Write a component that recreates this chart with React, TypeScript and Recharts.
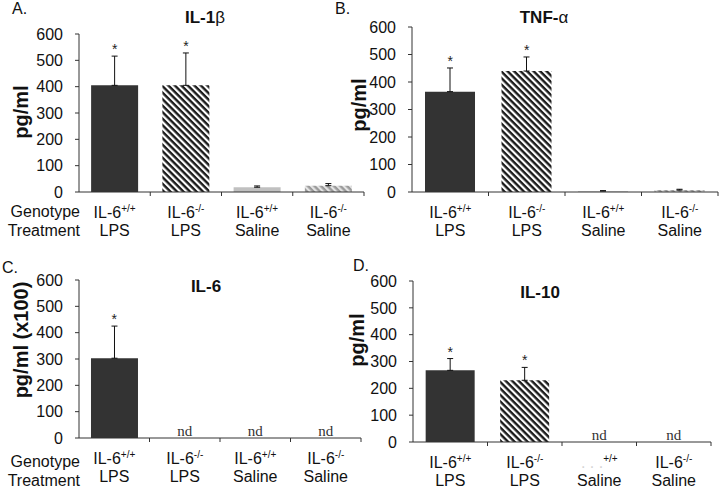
import React from 'react';
import { BarChart, Bar, Cell, XAxis, YAxis, ErrorBar, ReferenceDot } from 'recharts';

// groups, shared by all four panels
const groups = ['IL-6+/+ LPS', 'IL-6-/- LPS', 'IL-6+/+ Saline', 'IL-6-/- Saline'];
const genotypeSup = ['+/+', '-/-', '+/+', '-/-'];
const treatments = ['LPS', 'LPS', 'Saline', 'Saline'];
const yTicks = [0, 100, 200, 300, 400, 500, 600];

// A. IL-1b (pg/ml)
const il1bMean = [405, 405, 18, 24];
const il1bSem = [111, 123, 5, 8];
const il1bMark = ['*', '*', '', ''];

// B. TNF-a (pg/ml)
const tnfMean = [365, 440, 3, 7];
const tnfSem = [86, 51, 2, 3];
const tnfMark = ['*', '*', '', ''];

// C. IL-6 (pg/ml x100)
const il6Mean = [303, 0, 0, 0];
const il6Sem = [122, 0, 0, 0];
const il6Mark = ['*', 'nd', 'nd', 'nd'];

// D. IL-10 (pg/ml)
const il10Mean = [267, 230, 0, 0];
const il10Sem = [44, 48, 0, 0];
const il10Mark = ['*', '*', 'nd', 'nd'];

const FONT = '"Liberation Sans", Arial, sans-serif';
const SERIF = '"Liberation Serif", "Times New Roman", serif';

const GroupTick = (props: any) => {
  const { x, y, payload, fadedIndex } = props;
  const i = payload.index ?? props.index;
  const half = payload.offset ?? 0;
  const faded = i === fadedIndex;
  return (
    <g>
      {i > 0 && <line x1={x - half} x2={x - half} y1={y} y2={y + 4} stroke="#333" />}
      {i === groups.length - 1 && <line x1={x + half} x2={x + half} y1={y} y2={y + 4} stroke="#333" />}
      <text x={x} y={y + 26} textAnchor="middle" fontSize={16} fontFamily={FONT} fill="#111">
        <tspan fill={faded ? '#d4d4d4' : '#111'}>{faded ? '. . .' : 'IL-6'}</tspan>
        <tspan dy={-6} fontSize={10}>{genotypeSup[i]}</tspan>
      </text>
      <text x={x} y={y + 44} textAnchor="middle" fontSize={16} fontFamily={FONT} fill="#111">
        {treatments[i]}
      </text>
    </g>
  );
};

function Panel(props: any) {
  const { id, mean, sem, marks, left, top, width, height, yAxisWidth, marginTop, marginRight, fadedIndex } = props;
  const rows = groups.map((g, i) => ({ name: g, value: mean[i], err: [0, sem[i]] }));
  const fills = ['#333333', `url(#${id}-hb)`, '#c0c0c0', `url(#${id}-hg)`];

  return (
    <div style={{ position: 'absolute', left, top }}>
      <BarChart
        width={width}
        height={height}
        data={rows}
        margin={{ top: marginTop, right: marginRight, bottom: 0, left: 0 }}
        barCategoryGap="17%"
      >
        <defs>
          <pattern id={`${id}-hb`} width="4.6" height="4.6" patternUnits="userSpaceOnUse" patternTransform="rotate(45)">
            <rect width="4.6" height="4.6" fill="#ffffff" />
            <rect width="4.6" height="2.4" fill="#1a1a1a" />
          </pattern>
          <pattern id={`${id}-hg`} width="4.6" height="4.6" patternUnits="userSpaceOnUse" patternTransform="rotate(45)">
            <rect width="4.6" height="4.6" fill="#e4e4e4" />
            <rect width="4.6" height="2.4" fill="#9a9a9a" />
          </pattern>
        </defs>
        <XAxis
          dataKey="name"
          interval={0}
          height={58}
          tickSize={0}
          tickMargin={0}
          tickLine={false}
          axisLine={{ stroke: '#333' }}
          tick={(p: any) => <GroupTick {...p} fadedIndex={fadedIndex} />}
        />
        <YAxis
          domain={[0, 600]}
          ticks={yTicks}
          interval={0}
          width={yAxisWidth}
          tickSize={4}
          tickMargin={12}
          axisLine={{ stroke: '#333' }}
          tickLine={{ stroke: '#333' }}
          tick={{ fill: '#111', fontSize: 16, fontFamily: FONT }}
        />
        <Bar dataKey="value" isAnimationActive={false}>
          {rows.map((r, i) => (
            <Cell key={r.name} fill={fills[i]} />
          ))}
          <ErrorBar dataKey="err" width={3} stroke="#111" strokeWidth={1} />
        </Bar>
        {rows.map((r, i) =>
          marks[i] === '*' ? (
            <ReferenceDot
              key={'m' + i}
              x={r.name}
              y={r.value + sem[i]}
              r={0}
              fill="none"
              stroke="none"
              label={{ value: '*', position: 'top', offset: 2, fontSize: 14, fill: '#222', fontFamily: FONT }}
            />
          ) : marks[i] === 'nd' ? (
            <ReferenceDot
              key={'m' + i}
              x={r.name}
              y={0}
              r={0}
              fill="none"
              stroke="none"
              label={{ value: 'nd', position: 'top', offset: 2, fontSize: 15, fill: '#333', fontFamily: SERIF }}
            />
          ) : null
        )}
      </BarChart>
    </div>
  );
}

const txt = (left: number, top: number, content: React.ReactNode, extra: React.CSSProperties = {}) => (
  <div
    style={{
      position: 'absolute',
      left,
      top,
      fontFamily: FONT,
      color: '#111',
      whiteSpace: 'nowrap',
      lineHeight: '16px',
      ...extra,
    }}
  >
    {content}
  </div>
);

const title = (cx: number, cy: number, content: React.ReactNode) =>
  txt(cx, cy, content, { transform: 'translate(-50%, -50%)', fontWeight: 'bold', fontSize: 17, lineHeight: '20px' });

const yLabel = (cx: number, cy: number, content: string) =>
  txt(cx, cy, content, { transform: 'translate(-50%, -50%) rotate(-90deg)', fontWeight: 'bold', fontSize: 20, lineHeight: '22px' });

const rowLabel = (cy: number, content: string) =>
  txt(0, cy - 8, content, { width: 80, textAlign: 'right', fontSize: 16 });

export default function App() {
  return (
    <div style={{ position: 'absolute', left: 0, top: 0, width: 720, height: 491, background: '#fff', overflow: 'hidden' }}>
      <Panel id="a" mean={il1bMean} sem={il1bSem} marks={il1bMark} left={0} top={0} width={370} height={250}
        yAxisWidth={79} marginTop={34} marginRight={6} fadedIndex={-1} />
      <Panel id="b" mean={tnfMean} sem={tnfSem} marks={tnfMark} left={360} top={0} width={360} height={250}
        yAxisWidth={52} marginTop={27} marginRight={2} fadedIndex={-1} />
      <Panel id="c" mean={il6Mean} sem={il6Sem} marks={il6Mark} left={0} top={240} width={365} height={256}
        yAxisWidth={79} marginTop={40} marginRight={4} fadedIndex={-1} />
      <Panel id="d" mean={il10Mean} sem={il10Sem} marks={il10Mark} left={360} top={240} width={355} height={260}
        yAxisWidth={53} marginTop={41} marginRight={4} fadedIndex={2} />

      {txt(12, 1, 'A.', { fontSize: 16 })}
      {txt(335, 1, 'B.', { fontSize: 16 })}
      {txt(2, 260, 'C.', { fontSize: 16 })}
      {txt(353, 258, 'D.', { fontSize: 16 })}

      {title(205, 18, <>IL-1<span style={{ fontWeight: 'normal' }}>β</span></>)}
      {title(544, 18, <>TNF-<span style={{ fontWeight: 'normal' }}>α</span></>)}
      {title(206, 287, 'IL-6')}
      {title(540, 293, 'IL-10')}

      {yLabel(21, 112, 'pg/ml')}
      {yLabel(359, 105, 'pg/ml')}
      {yLabel(21, 340, 'pg/ml (x100)')}
      {yLabel(357, 340, 'pg/ml')}

      {rowLabel(212, 'Genotype')}
      {rowLabel(231, 'Treatment')}
      {rowLabel(462, 'Genotype')}
      {rowLabel(481, 'Treatment')}
    </div>
  );
}
